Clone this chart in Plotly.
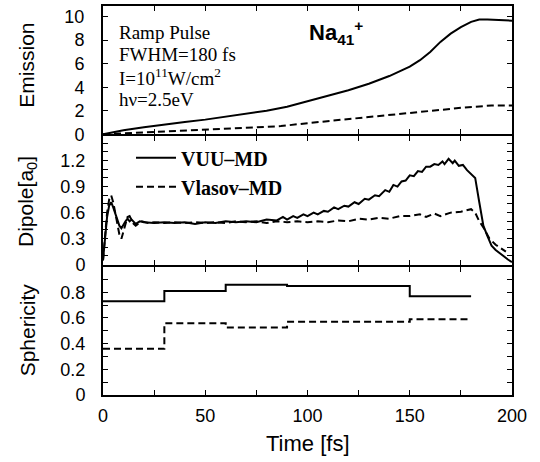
import plotly.graph_objects as go
from plotly.subplots import make_subplots

# ---------------- data ----------------
em_t = [0, 5, 10, 20, 30, 40, 50, 60, 70, 80, 90, 100, 110, 120, 130, 140, 150,
        155, 160, 165, 170, 175, 180, 184, 188, 192, 200]
em_vuu = [0, 0.2, 0.35, 0.6, 0.85, 1.05, 1.25, 1.5, 1.75, 2.0, 2.35, 2.8, 3.25,
          3.75, 4.3, 4.95, 5.75, 6.3, 7.0, 7.85, 8.55, 9.1, 9.55, 9.75, 9.75, 9.7, 9.65]
em_vla_t = [0, 10, 25, 50, 75, 87, 100, 125, 150, 175, 190, 200]
em_vla = [0, 0.08, 0.15, 0.36, 0.6, 0.7, 0.95, 1.4, 1.8, 2.25, 2.45, 2.45]

dip_t_vuu = [0, 1, 2, 3, 4, 5, 6, 7, 8, 9, 10, 11, 12, 13, 14, 15, 16, 18, 20, 25,
             30, 35, 40, 45, 50, 55, 60, 65, 70, 75, 80, 85, 88, 90, 93, 95, 98, 100,
             103, 105, 108, 110, 113, 115, 118, 120, 123, 125, 128, 130, 133, 135,
             138, 140, 142, 144, 146, 148, 150, 152, 154, 156, 158, 160, 162, 164,
             166, 167, 169, 171, 172, 174, 176, 178, 180, 182, 184, 186, 188, 190,
             192, 195, 198, 200]
dip_vuu = [0.05, 0.3, 0.55, 0.68, 0.72, 0.66, 0.58, 0.5, 0.45, 0.42, 0.47, 0.5, 0.53,
           0.5, 0.52, 0.5, 0.47, 0.5, 0.49, 0.48, 0.49, 0.48, 0.49, 0.47, 0.49, 0.48,
           0.5, 0.49, 0.5, 0.49, 0.52, 0.51, 0.55, 0.52, 0.56, 0.54, 0.58, 0.56, 0.6,
           0.58, 0.62, 0.61, 0.66, 0.64, 0.68, 0.67, 0.72, 0.7, 0.76, 0.75, 0.8, 0.79,
           0.86, 0.84, 0.92, 0.9, 0.96, 0.97, 1.03, 1.02, 1.08, 1.07, 1.13, 1.13, 1.16,
           1.15, 1.19, 1.16, 1.22, 1.17, 1.2, 1.14, 1.15, 1.09, 1.05, 1.0, 0.72, 0.45,
           0.33, 0.22, 0.17, 0.11, 0.06, 0.03]
dip_t_vla = [0, 1, 2, 3, 4, 5, 6, 7, 8, 9, 10, 11, 12, 13, 14, 15, 16, 17, 19, 22,
             25, 30, 35, 40, 45, 50, 55, 60, 65, 70, 75, 80, 85, 90, 95, 100, 105, 110,
             115, 120, 125, 130, 135, 140, 145, 150, 155, 158, 162, 165, 170, 175, 180,
             182, 184, 186, 189, 192, 195, 197]
dip_vla = [0.05, 0.3, 0.6, 0.75, 0.8, 0.72, 0.6, 0.45, 0.35, 0.3, 0.38, 0.48, 0.55,
           0.56, 0.52, 0.47, 0.45, 0.47, 0.5, 0.48, 0.49, 0.48, 0.49, 0.48, 0.49, 0.48,
           0.49, 0.48, 0.5, 0.49, 0.5, 0.48, 0.5, 0.49, 0.5, 0.49, 0.5, 0.49, 0.51, 0.5,
           0.53, 0.52, 0.54, 0.53, 0.56, 0.56, 0.58, 0.55, 0.59, 0.56, 0.6, 0.61, 0.64,
           0.6, 0.5, 0.43, 0.3, 0.23, 0.18, 0.15]

sph_t = [0, 30, 60, 90, 150, 180]
sph_vuu = [0.73, 0.81, 0.86, 0.85, 0.77, 0.77]
sph_vla = [0.36, 0.56, 0.525, 0.57, 0.59, 0.59]

x_ticks = [0, 50, 100, 150, 200]
em_ticks = [0, 2, 4, 6, 8, 10]
dip_ticks = [0, 0.3, 0.6, 0.9, 1.2]
dip_ticklabels = ["0", "0.3", "0.6", "0.9", "1.2"]
sph_ticks = [0, 0.2, 0.4, 0.6, 0.8]
sph_ticklabels = ["0", "0.2", "0.4", "0.6", "0.8"]

info_lines = ["Ramp Pulse", "FWHM=180 fs", "I=10<sup>11</sup>W/cm<sup>2</sup>", "hν=2.5eV"]

# ---------------- figure ----------------
W, H = 540, 462
ML, MR, MT, MB = 103, 28, 4, 67
PW, PH = W - ML - MR, H - MT - MB

fig = make_subplots(rows=3, cols=1, shared_xaxes=True, vertical_spacing=2.0 / PH)

solid = dict(color="black", width=2)
dashed = dict(color="black", width=2, dash="7px,4px")

fig.add_trace(go.Scatter(x=em_t, y=em_vuu, mode="lines", line=solid, showlegend=False), 1, 1)
fig.add_trace(go.Scatter(x=em_vla_t, y=em_vla, mode="lines", line=dashed, showlegend=False), 1, 1)
fig.add_trace(go.Scatter(x=dip_t_vuu, y=dip_vuu, mode="lines", line=solid,
                         name="<b>VUU–MD</b>"), 2, 1)
fig.add_trace(go.Scatter(x=dip_t_vla, y=dip_vla, mode="lines", line=dashed,
                         name="<b>Vlasov–MD</b>"), 2, 1)
fig.add_trace(go.Scatter(x=sph_t, y=sph_vuu, mode="lines", line=solid, line_shape="hv",
                         showlegend=False), 3, 1)
fig.add_trace(go.Scatter(x=sph_t, y=sph_vla, mode="lines", line=dashed, line_shape="hv",
                         showlegend=False), 3, 1)

axis_common = dict(showline=True, linewidth=2, linecolor="black", mirror="allticks",
                   ticks="inside", ticklen=5, tickwidth=1, tickcolor="black",
                   showgrid=False, zeroline=False,
                   tickfont=dict(family="Liberation Sans, Arial", size=18, color="black"))
minor_common = dict(ticks="inside", ticklen=5, tickwidth=1, tickcolor="black",
                    showgrid=False)

for r in (1, 2, 3):
    fig.update_xaxes(range=[0, 200], tickvals=x_ticks,
                     minor=dict(dtick=25, **minor_common),
                     showticklabels=(r == 3), ticklabelstandoff=3,
                     row=r, col=1, **axis_common)

fig.update_yaxes(range=[0, 10.9], tickvals=em_ticks, row=1, col=1,
                 ticklabelstandoff=13, **axis_common)
fig.update_yaxes(range=[0, 1.48], tickvals=dip_ticks, ticktext=dip_ticklabels,
                 minor=dict(dtick=0.1, **minor_common),
                 ticklabelstandoff=12, row=2, col=1, **axis_common)
fig.update_yaxes(range=[0, 1.0], tickvals=sph_ticks, ticktext=sph_ticklabels,
                 minor=dict(dtick=0.1, **minor_common),
                 ticklabelstandoff=12, row=3, col=1, **axis_common)


def px(xp):
    return (xp - ML) / PW


def py(yp):
    return (H - MB - yp) / PH


annos = []
title_font = dict(family="Liberation Sans, Arial", size=21, color="black")
for txt, yc in [("Emission", 64), ("Dipole[a<sub>0</sub>]", 201), ("Sphericity", 330)]:
    annos.append(dict(text=txt, xref="paper", yref="paper", x=px(27), y=py(yc),
                      xanchor="center", yanchor="middle", textangle=-90,
                      showarrow=False, font=title_font))
annos.append(dict(text="Time [fs]", xref="paper", yref="paper", x=0.5, y=py(444),
                  xanchor="center", yanchor="middle", showarrow=False,
                  font=dict(family="Liberation Sans, Arial", size=22, color="black")))
for txt, yc in zip(info_lines, [31, 52.5, 75, 97.5]):
    annos.append(dict(text=txt, xref="paper", yref="paper", x=px(117), y=py(yc),
                      xanchor="left", yanchor="middle", showarrow=False,
                      font=dict(family="Liberation Serif, Times New Roman", size=19,
                                color="black")))
annos.append(dict(text="<b>Na<sub>41</sub><sup>+</sup></b>", xref="paper", yref="paper",
                  x=px(307), y=py(31), xanchor="left", yanchor="middle", showarrow=False,
                  font=dict(family="Liberation Sans, Arial", size=22, color="black")))

fig.update_layout(
    width=W, height=H,
    margin=dict(l=ML, r=MR, t=MT, b=MB),
    paper_bgcolor="white", plot_bgcolor="white",
    annotations=annos,
    showlegend=True,
    legend=dict(x=px(131), y=py(137), xanchor="left", yanchor="top",
                bgcolor="rgba(0,0,0,0)",
                font=dict(family="Liberation Serif, Times New Roman", size=20,
                          color="black"),
                tracegroupgap=0, itemwidth=40),
)

fig.write_html("out.html", config={"displayModeBar": False},
               post_script="document.body.style.margin='0px';")
